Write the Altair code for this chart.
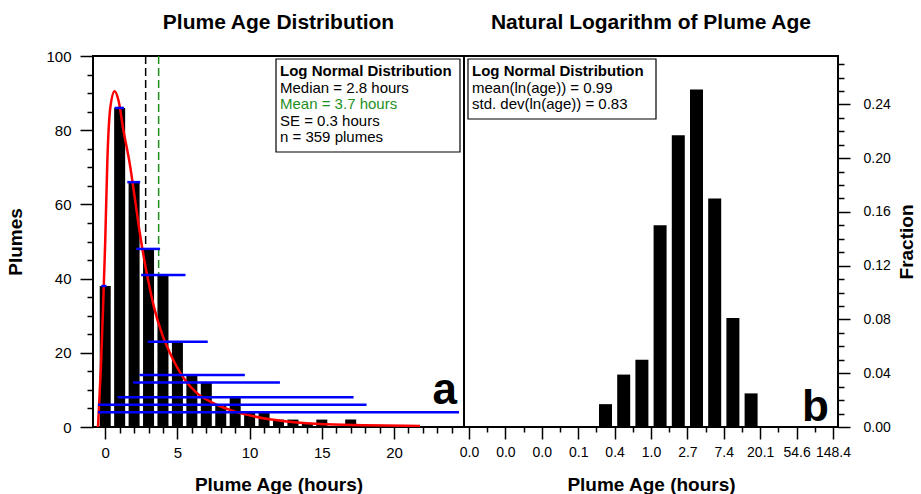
import altair as alt
import pandas as pd

FONT = "Liberation Sans"

# ---- panel a: plume counts in 1-hour age bins ----
age_hours = list(range(18))
plume_counts = [38, 86, 66, 48, 41, 23, 14, 12, 6, 8, 4, 4, 2, 2, 1, 2, 0, 2]

# fitted log-normal curve (hours, plumes)
fit_hours = [-0.5, -0.3, -0.15, 0.0, 0.15, 0.35, 0.65, 0.92, 1.26, 1.71, 2.05,
             2.38, 2.72, 2.94, 3.39, 3.95, 4.5, 5.43, 6.33, 7.45, 8.58, 9.93,
             11.5, 13.06, 14.85, 18.0, 21.8]
fit_plumes = [0, 16, 32, 50, 72, 86, 90.5, 88, 80, 70.7, 61.7, 52.7, 44.7, 40.2,
              32.1, 24.9, 19.8, 13.2, 9.2, 6.5, 4.7, 3.2, 2.0, 1.3, 0.8, 0.5, 0.3]

# horizontal age-range bars (level, start hour, end hour)
range_level = [86, 66, 48, 41, 38, 23, 14, 12, 8, 6, 4]
range_start = [0.65, 1.53, 2.15, 2.49, -0.27, 2.94, 2.38, 1.93, 0.86, -0.5, -0.5]
range_end = [1.3, 2.42, 3.8, 5.56, 0.09, 7.1, 9.67, 12.1, 17.2, 18.1, 24.5]

median_hours = 2.8
mean_hours = 3.7

stats_a = ["Log Normal Distribution", "Median = 2.8 hours", "Mean = 3.7 hours",
           "SE = 0.3 hours", "n = 359 plumes"]
stats_a_color = ["black", "black", "#1f8f1f", "black", "black"]

# ---- panel b: fraction of plumes in ln(age) bins ----
ln_age_center = [-1.25, -0.75, -0.25, 0.25, 0.75, 1.25, 1.75, 2.25, 2.75]
ln_age_fraction = [0.017, 0.039, 0.050, 0.150, 0.217, 0.251, 0.170, 0.081, 0.025]

stats_b = ["Log Normal Distribution", "mean(ln(age)) = 0.99", "std. dev(ln(age)) = 0.83"]

title_a = "Plume Age Distribution"
title_b = "Natural Logarithm of Plume Age"

counts_df = pd.DataFrame({"hour": age_hours, "plumes": plume_counts})
fit_df = pd.DataFrame({"hour": fit_hours, "plumes": fit_plumes})
range_df = pd.DataFrame({"plumes": range_level, "hour": range_start, "end": range_end})
center_df = pd.DataFrame({"hour": [median_hours, mean_hours], "c": ["black", "#1f8f1f"]})
ln_df = pd.DataFrame({"ln_age": ln_age_center, "fraction": ln_age_fraction})
one = pd.DataFrame({"k": [0]})


def tick_size(test, major, minor):
    return {"condition": {"test": test, "value": major}, "value": minor}


x_a = alt.X(
    "hour:Q",
    scale=alt.Scale(domain=[-0.5, 24.5], nice=False, zero=False),
    axis=alt.Axis(
        values=list(range(25)),
        labelExpr="datum.value % 5 == 0 ? datum.label : ''",
        tickSize=tick_size("datum.value % 5 == 0", 12, 6),
        labelFontSize=15, labelPadding=6, labelFlush=False, labelOverlap=False,
        title="Plume Age (hours)", titlePadding=15,
    ),
)
y_a = alt.Y(
    "plumes:Q",
    scale=alt.Scale(domain=[0, 100], nice=False),
    axis=alt.Axis(
        values=list(range(0, 101, 5)),
        labelExpr="datum.value % 20 == 0 ? datum.label : ''",
        tickSize=tick_size("datum.value % 20 == 0", 13, 6),
        labelFontSize=15, labelPadding=9, labelOverlap=False,
        title="Plumes", titlePadding=20,
    ),
)


def panel_title(text, center):
    return alt.Chart(one).mark_text(
        align="center", baseline="alphabetic", font=FONT, fontSize=21, fontWeight="bold"
    ).encode(x=alt.value(center), y=alt.value(-27), text=alt.value(text))


center_lines = alt.Chart(center_df).mark_rule(strokeWidth=1.5, strokeDash=[8, 4]).encode(
    x=x_a, color=alt.Color("c:N", scale=None)
)
bars_a = alt.Chart(counts_df).mark_bar(color="black", size=11).encode(x=x_a, y=y_a)
fit_line = alt.Chart(fit_df).mark_line(
    color="#ff0000", strokeWidth=2.5, interpolate="monotone", clip=True
).encode(x=x_a, y=y_a)
ranges = alt.Chart(range_df).mark_rule(color="#0000ff", strokeWidth=2.5, clip=True).encode(
    x=x_a, x2="end:Q", y=y_a
)
box_a = alt.Chart(one).mark_rect(fill="white", stroke="black", strokeWidth=1.2).encode(
    x=alt.value(183), x2=alt.value(367), y=alt.value(3), y2=alt.value(96)
)
text_a = [
    alt.Chart(one).mark_text(
        align="left", baseline="middle", font=FONT, fontSize=15,
        fontWeight="bold" if i == 0 else "normal", color=stats_a_color[i],
    ).encode(x=alt.value(187), y=alt.value(15 + 16.5 * i), text=alt.value(line))
    for i, line in enumerate(stats_a)
]
letter_a = alt.Chart(one).mark_text(
    align="right", baseline="alphabetic", font=FONT, fontSize=44, fontWeight="bold"
).encode(x=alt.value(364), y=alt.value(348), text=alt.value("a"))

panel_a = alt.layer(
    center_lines, bars_a, fit_line, ranges, box_a, *text_a, letter_a, panel_title(title_a, 185.5)
).properties(width=371, height=371)

ln_ticks = [-5 + 0.5 * i for i in range(21)]
frac_ticks = [round(0.01 * i, 2) for i in range(28)]

bars_b = alt.Chart(ln_df).mark_bar(color="black", size=13).encode(
    x=alt.X(
        "ln_age:Q",
        scale=alt.Scale(domain=[-5, 5], nice=False, zero=False),
        axis=alt.Axis(
            values=ln_ticks,
            labelExpr="datum.value % 1 == 0 ? format(exp(datum.value), '.1f') : ''",
            tickSize=tick_size("datum.value % 1 == 0", 12, 5),
            labelPadding=6, labelFlush=False, labelOverlap=False,
            title="Plume Age (hours)", titlePadding=16,
        ),
    ),
    y=alt.Y(
        "fraction:Q",
        scale=alt.Scale(domain=[0, 0.276], nice=False),
        axis=alt.Axis(
            orient="right",
            values=frac_ticks,
            labelExpr="round(datum.value * 100) % 4 == 0 ? format(datum.value, '.2f') : ''",
            tickSize=tick_size("round(datum.value * 100) % 4 == 0", 12, 6),
            labelPadding=13, labelOverlap=False,
            title="Fraction", titleAngle=270, titlePadding=26,
        ),
    ),
)
box_b = alt.Chart(one).mark_rect(fill="white", stroke="black", strokeWidth=1.2).encode(
    x=alt.value(4), x2=alt.value(192), y=alt.value(3), y2=alt.value(63)
)
text_b = [
    alt.Chart(one).mark_text(
        align="left", baseline="middle", font=FONT, fontSize=15,
        fontWeight="bold" if i == 0 else "normal", color="black",
    ).encode(x=alt.value(8), y=alt.value(15 + 16.5 * i), text=alt.value(line))
    for i, line in enumerate(stats_b)
]
letter_b = alt.Chart(one).mark_text(
    align="right", baseline="alphabetic", font=FONT, fontSize=44, fontWeight="bold"
).encode(x=alt.value(365), y=alt.value(365), text=alt.value("b"))

panel_b = alt.layer(
    bars_b, box_b, *text_b, letter_b, panel_title(title_b, 187)
).properties(width=374, height=371)

chart = (
    alt.hconcat(panel_a, panel_b, spacing=0, bounds="flush")
    .properties(padding={"left": 5, "top": 11, "right": 2, "bottom": 0}, background="white")
    .configure_view(stroke="black", strokeWidth=2)
    .configure_axis(
        domain=False, grid=False,
        labelFont=FONT, labelFontSize=14, labelColor="black",
        tickColor="black", tickWidth=1.5,
        titleFont=FONT, titleFontSize=19, titleFontWeight="bold", titleColor="black",
    )
)

chart.save("out.html", embed_options={"renderer": "svg", "actions": False})
